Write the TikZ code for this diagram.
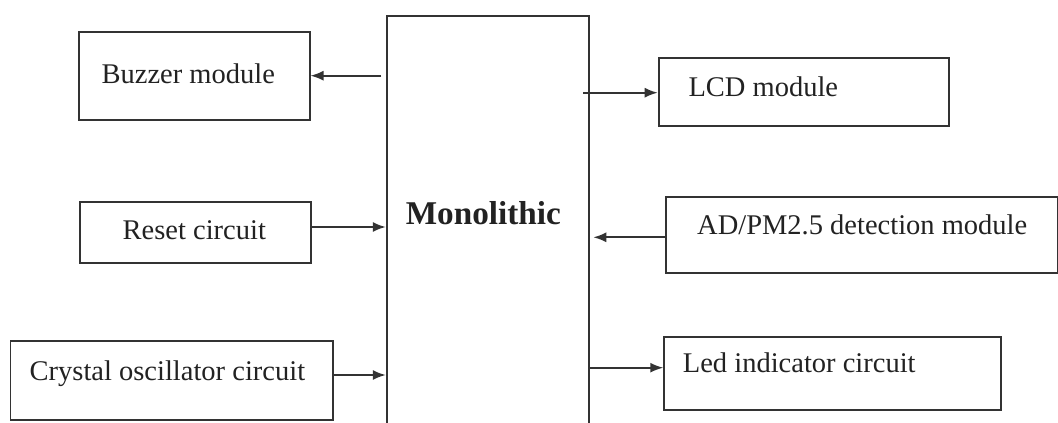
\documentclass[tikz,border=0pt]{standalone}
\usepackage{fontspec}
\setmainfont{Liberation Serif}
\usetikzlibrary{arrows.meta}
\definecolor{ink}{HTML}{333333}
\definecolor{txt}{HTML}{222222}
\tikzset{
  blk/.style={draw=ink, line width=1.8pt, inner sep=0pt, anchor=north west},
  lbl/.style={inner sep=0pt, anchor=base west, text=txt, font=\fontsize{28.5}{31}\selectfont},
  arr/.style={draw=ink, line width=1.8pt, -{Latex[length=13pt,width=10pt]}},
}
\begin{document}
\begin{tikzpicture}[x=1pt,y=-1pt]
\clip (0,0) rectangle (1058,423);
\fill[white] (0,0) rectangle (1058,423);
% boxes
\node[blk, minimum width=231pt, minimum height=88pt] (buzz) at (77.7,31) {};
\node[blk, minimum width=231pt, minimum height=61pt] (reset) at (79.2,201) {};
\node[blk, minimum width=322.6pt, minimum height=79.3pt] (xtal) at (9.6,340) {};
\node[blk, minimum width=202.4pt, minimum height=440pt] (mono) at (385.8,14.7) {};
\node[blk, minimum width=290.6pt, minimum height=68pt] (lcd) at (657.7,57.3) {};
\node[blk, minimum width=392pt, minimum height=76pt] (ad) at (665.3,195.7) {};
\node[blk, minimum width=336.7pt, minimum height=73.6pt] (led) at (663.3,335.7) {};
% texts
\node[lbl] (tbuzz) at (101.4,83.3) {Buzzer module};
\node[lbl] (treset) at (122.5,239.3) {Reset circuit};
\node[lbl] (txtal) at (29.5,380) {Crystal oscillator circuit};
\node[lbl, font=\fontsize{33.2}{36}\bfseries] (tmono) at (405.7,224) {Monolithic};
\node[lbl] (tlcd) at (688.3,96.7) {LCD module};
\node[lbl] (tad) at (697,234.3) {AD/PM2.5 detection module};
\node[lbl] (tled) at (682.7,372.3) {Led indicator circuit};
% connector heights
\coordinate (ybuzz) at (0,75.7);
\coordinate (yreset) at (0,227);
\coordinate (yxtal) at (0,375);
\coordinate (ylcd) at (0,92.7);
\coordinate (yad) at (0,237.3);
\coordinate (yled) at (0,367.7);
\coordinate (buzzstart) at (381,75.7);
\coordinate (lcdstart) at (583.3,92.7);
\coordinate (adtip) at (593.3,237.3);
% connectors
\draw[arr] (buzzstart) -- (buzz.east |- ybuzz);
\draw[arr] (reset.east |- yreset) -- (mono.west |- yreset);
\draw[arr] (xtal.east |- yxtal) -- (mono.west |- yxtal);
\draw[arr] (lcdstart) -- (lcd.west |- ylcd);
\draw[arr] (ad.west |- yad) -- (adtip);
\draw[arr] (mono.east |- yled) -- (led.west |- yled);
\end{tikzpicture}
\end{document}
